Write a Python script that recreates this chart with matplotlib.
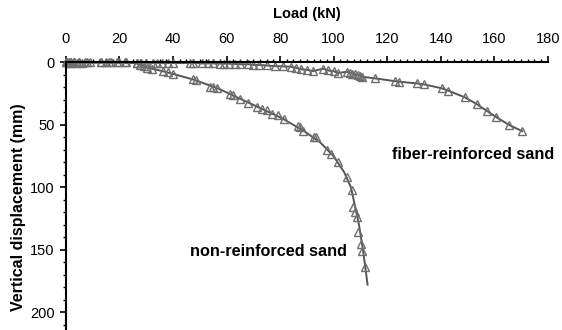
import numpy as np
import matplotlib
matplotlib.use("Agg")
import matplotlib.pyplot as plt
from matplotlib.ticker import MultipleLocator

plt.rcParams['font.family'] = ['Liberation Sans', 'DejaVu Sans']

# non-reinforced sand: measured points (load kN, displacement mm)
load_nr = [0, 0.5, 1, 1.5, 2, 3, 4, 5, 6, 8, 13, 16, 19, 22, 26.5, 27.7, 29,
           30.1, 32, 36.4, 38, 40.1, 47.3, 48.5, 53.8, 55, 56.3, 61.3, 62.5,
           65, 68.2, 71.3, 73.1, 75, 76.9, 79.3, 81.6, 86.8, 87.5,
           88.7, 92.8, 93.3, 97.4, 99, 101.7, 104.9, 106.7, 107.1, 107.9,
           108.6, 109.2, 110.2, 110.7, 111.7]
disp_nr = [0, 0, 0.5, 0, 0.5, 0, 0.5, 0, 0.5, 0, 0, 0, 0, 0, 0.5, 2.2, 3,
           4.3, 5, 6.7, 7.5, 9.4, 13.6, 14.3, 19.5, 20, 20.8, 25.4, 26.2,
           29.4, 32.5, 36, 37.3, 38.2, 41.1, 42.2, 45.4, 50.8, 51.5,
           54.6, 59.4, 60, 70.2, 73.4, 79.6, 91.7, 102.4, 115.9, 120, 124,
           136, 145.4, 150.8, 164]
# fitted curve for non-reinforced sand
fit_load_nr = [0, 26, 30, 36, 41, 48, 57, 64, 72, 81, 89, 95, 100, 104, 106.5,
               108, 109.5, 111, 112.7]
fit_disp_nr = [0, 0.5, 4, 7, 9.8, 14, 21, 28, 36, 45, 55, 64, 75, 88, 100,
               115, 130, 150, 177.7]

# fiber-reinforced sand: measured points
load_fr = [0, 1, 2, 3, 5, 7, 9, 13, 15, 17, 20, 22.5, 26.5, 28, 30, 32.5, 34,
           36, 38, 40, 46.3, 47.5, 51, 53, 55, 57.5, 59, 61, 63, 65, 68, 70,
           72, 75, 78, 81, 84, 86, 88, 90, 92.4, 96, 98, 100, 101.6, 105,
           106, 107, 108, 109, 110, 110.5, 115.5, 122.9, 124.6, 131, 133.8,
           140.6, 142.9, 149.1, 153.5, 157.4, 160.6, 165.7, 170.5]
disp_fr = [0, 0, 0, 0, 0, 0, 0, 0, 0, 0, 0, 0, 0.3, 0.3, 0.3, 0.4, 0.4, 0.5,
           0.5, 0.5, 0.5, 0.5, 0.8, 0.8, 0.8, 1, 1, 1, 1.2, 1.5, 1.5, 2, 2,
           2.5, 3, 3.2, 3.5, 4.5, 5.5, 6, 7, 5, 6.5, 7, 8.5, 7.5, 8.5, 9,
           9.5, 10, 10.5, 11.5, 12.8, 15, 15.5, 16.8, 17.6, 20.8, 22.7, 28,
           33.4, 39, 43.5, 50.2, 55]

fig = plt.figure(figsize=(5.62, 3.30), dpi=100)
ax = fig.add_axes([0.1174, 0.0, 0.8571, 0.811])

line_col = '#555555'
mark_col = '#6e6e6e'

ax.plot(fit_load_nr, fit_disp_nr, color=line_col, lw=1.4, clip_on=False)
ax.plot(load_nr, disp_nr, ls='none', marker='^', ms=6, mfc='none',
        mec=mark_col, mew=1.0, clip_on=False)
ax.plot(load_fr, disp_fr, color=line_col, lw=1.4, marker='^', ms=6,
        mfc='none', mec=mark_col, mew=1.0, clip_on=False)

ax.set_xlim(0, 180)
ax.set_ylim(214, 0)

ax.xaxis.set_ticks_position('top')
ax.xaxis.set_label_position('top')
ax.spines['right'].set_visible(False)
ax.spines['bottom'].set_visible(False)
ax.spines['top'].set_linewidth(1.5)
ax.spines['left'].set_linewidth(1.5)

ax.xaxis.set_major_locator(MultipleLocator(20))
ax.xaxis.set_minor_locator(MultipleLocator(2.5))
ax.yaxis.set_major_locator(MultipleLocator(50))
ax.yaxis.set_minor_locator(MultipleLocator(10))
ax.tick_params(which='major', direction='out', length=4, width=1.2,
               labelsize=10.5, pad=8)
ax.tick_params(which='minor', direction='out', length=2.5, width=1.0)
ax.tick_params(axis='y', which='major', pad=4)

ax.set_xlabel('Load (kN)', fontsize=10.5, fontweight='bold', labelpad=10)
ax.set_ylabel('Vertical displacement (mm)', fontsize=11.5, fontweight='bold')
ax.yaxis.set_label_coords(-0.083, 0.46)

ax.text(122, 73.4, 'fiber-reinforced sand', fontsize=11.7, fontweight='bold',
        va='center')
ax.text(46.3, 151.5, 'non-reinforced sand', fontsize=11.7, fontweight='bold',
        va='center')

fig.savefig('out.png', dpi=100)
